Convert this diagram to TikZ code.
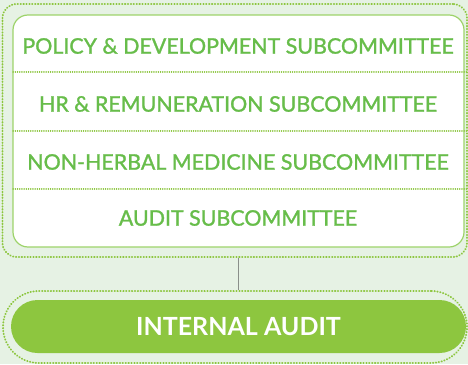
\documentclass[tikz,border=0pt]{standalone}
\usepackage{fontspec}
\setmainfont{Lato}
\newfontfamily\rowfont[FakeBold=1.3]{Lato}
\definecolor{bgtint}{HTML}{E6F2E4}
\definecolor{leaf}{HTML}{8DC63F}
\definecolor{rowgreen}{HTML}{67BD4A}
\definecolor{frame}{HTML}{9DD36A}
\definecolor{stem}{HTML}{8A8F8A}
\tikzset{
  dotring/.style={draw=leaf, line width=1.9pt, line cap=round,
                  dash pattern=on 0.4pt off 2.5pt},
  sepline/.style={draw=leaf, line width=1.2pt, line cap=round,
                  dash pattern=on 0.3pt off 1.9pt},
  panelbox/.style={draw=frame, fill=white, line width=1.2pt,
                   rounded corners=15pt, inner sep=0pt},
  rowtext/.style={text=rowgreen, font=\rowfont\fontsize{21.4}{25}\selectfont,
                  inner sep=0pt, anchor=center},
  pill/.style={fill=leaf, text=white, rounded corners=26.5pt,
               font=\bfseries\fontsize{25}{28}\selectfont, inner sep=0pt},
  link/.style={draw=stem, line width=1pt}
}
\begin{document}
\begin{tikzpicture}[x=1pt,y=-1pt]
  % backdrop
  \fill[bgtint] (0,0) rectangle (468,364);
  \useasboundingbox (0,0) rectangle (468,364);

  % committee panel: dotted ring, white card, row separators
  \node[dotring, rounded corners=14pt, minimum width=464.5pt,
        minimum height=253pt, inner sep=0pt] (ring) at (234.75,130.5) {};
  \node[panelbox, minimum width=451pt, minimum height=232pt] (panel) at (238.5,131) {};
  \draw[sepline] (13,72) -- (467,72);
  \draw[sepline] (13,131) -- (467,131);
  \draw[sepline] (13,189) -- (467,189);

  \node[rowtext] (policy) at (238,46) {POLICY \& DEVELOPMENT SUBCOMMITTEE};
  \node[rowtext] (hr) at (238,104) {HR \& REMUNERATION SUBCOMMITTEE};
  \node[rowtext] (herbal) at (238,162) {NON-HERBAL MEDICINE SUBCOMMITTEE};
  \node[rowtext] (auditsub) at (238,218) {AUDIT SUBCOMMITTEE};

  % internal audit: dotted outline around a solid pill
  \node[dotring, rounded corners=36pt, minimum width=464pt,
        minimum height=72pt, inner sep=0pt] (auditring) at (235,327) {};
  \node[pill, minimum width=455pt, minimum height=53pt] (audit) at (238.5,326.5) {INTERNAL AUDIT};

  % stem joining the two groups
  \draw[link] (ring.south -| policy) -- (auditring.north -| policy);
\end{tikzpicture}
\end{document}
